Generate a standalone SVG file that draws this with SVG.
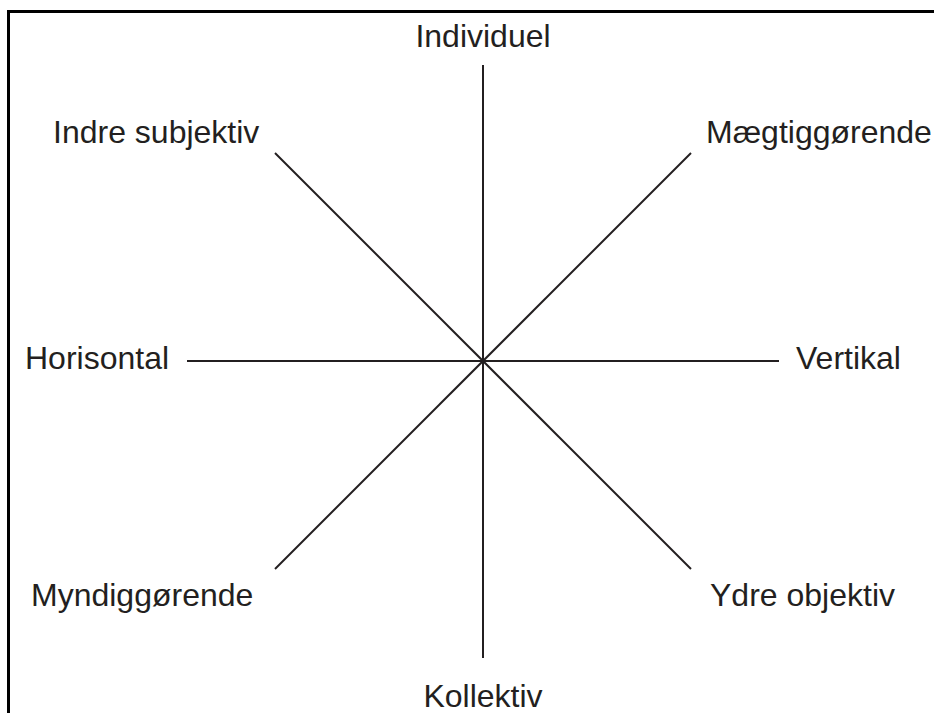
<svg xmlns="http://www.w3.org/2000/svg" width="934" height="713" viewBox="0 0 934 713">
<style>
.t{font-family:"Liberation Sans",Arial,sans-serif;font-size:32px;fill:#231f20}
.ax{stroke:#231f20;stroke-width:2;fill:none}
</style>
<rect width="934" height="713" fill="#fff"/>
<path d="M8.5 713 V11.5 H934" fill="none" stroke="#000" stroke-width="3"/>
<g id="connectors">
<line class="ax" x1="483" y1="65" x2="483" y2="658"/>
<line class="ax" x1="187" y1="361" x2="779" y2="361"/>
<line class="ax" x1="275" y1="153" x2="691" y2="569"/>
<line class="ax" x1="691" y1="153" x2="275" y2="569"/>
</g>
<g id="individuel"><text class="t" x="483" y="47" text-anchor="middle">Individuel</text></g>
<g id="indre"><text class="t" x="53" y="143">Indre subjektiv</text></g>
<g id="maegtig"><text class="t" x="706" y="143">Mægtiggørende</text></g>
<g id="horisontal"><text class="t" x="25" y="369">Horisontal</text></g>
<g id="vertikal"><text class="t" x="796" y="369">Vertikal</text></g>
<g id="myndig"><text class="t" x="31" y="606">Myndiggørende</text></g>
<g id="ydre"><text class="t" x="710" y="606">Ydre objektiv</text></g>
<g id="kollektiv"><text class="t" x="483" y="707" text-anchor="middle">Kollektiv</text></g>
</svg>
